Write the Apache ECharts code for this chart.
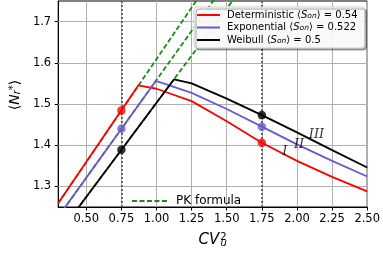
<!DOCTYPE html>
<html><head><meta charset="utf-8">
<script src="https://cdn.jsdelivr.net/npm/echarts@6/dist/echarts.min.js"></script>
<style>html,body{margin:0;padding:0;background:#fff}#c{width:383px;height:253px}</style>
</head><body><div id="c"></div>
<script>
// ---- data ----
const xTicks = [0.5, 0.75, 1.0, 1.25, 1.5, 1.75, 2.0, 2.25, 2.5];
const yTicks = [1.3, 1.4, 1.5, 1.6, 1.7];
const detX = [0.3, 0.87, 1.0, 1.25, 1.5, 1.75, 2.0, 2.25, 2.5];
const detY = [1.259, 1.545, 1.537, 1.507, 1.458, 1.406, 1.362, 1.323, 1.288];
const expX = [0.3, 0.995, 1.25, 1.5, 1.75, 2.0, 2.25, 2.5];
const expY = [1.226, 1.556, 1.527, 1.488, 1.445, 1.402, 1.362, 1.324];
const weiX = [0.3, 1.125, 1.25, 1.5, 1.75, 2.0, 2.25, 2.5];
const weiY = [1.183, 1.560, 1.550, 1.513, 1.473, 1.431, 1.388, 1.346];
const pkX = [0.3, 1.7];
const pkDet = [1.259, 1.959];
const pkExp = [1.226, 1.891];
const pkWei = [1.183, 1.823];
const dotX = [0.75, 1.75];
const detDots = [1.484, 1.406];
const expDots = [1.440, 1.445];
const weiDots = [1.389, 1.473];
const vLines = [0.75, 1.75];
const romanText = ['I', 'II', 'III'];
const romanX = [1.913, 2.015, 2.139];
const romanY = [1.385, 1.401, 1.426];
const legendVals = {Deterministic: '0.54', Exponential: '0.522', Weibull: '0.5'};

const zip = (xs, ys) => xs.map((x, i) => [x, ys[i]]);
const RED = '#ff0000', BLUE = '#6a5acd', BLACK = '#000000', GREEN = '#1a8a1a';
const FONT = 'DejaVu Sans';

function lineSeries(name, xs, ys, color) {
  return {type: 'line', name, data: zip(xs, ys), symbol: 'none', z: 3,
    lineStyle: {color, width: 1.8}, itemStyle: {color}, animation: false};
}
function pkSeries(ys) {
  return {type: 'line', name: 'PK formula', data: zip(pkX, ys), symbol: 'none', z: 2,
    lineStyle: {color: GREEN, width: 1.8, type: [5, 2.5]}, itemStyle: {color: GREEN}, animation: false};
}
function dotSeries(ys, color) {
  return {type: 'scatter', data: zip(dotX, ys), symbolSize: 8.5, z: 5,
    itemStyle: {color}, animation: false};
}
const noSymbol = {color: 'transparent', borderWidth: 0, opacity: 0};

const chart = echarts.init(document.getElementById('c'));
chart.setOption({
  animation: false,
  grid: {left: 45, right: 13, top: 1, bottom: 41, show: true, borderColor: '#000', borderWidth: 1, backgroundColor: 'transparent'},
  xAxis: {
    type: 'value', min: 0.3, max: 2.5,
    axisLine: {show: true, onZero: false, lineStyle: {color: '#000', width: 1}},
    axisTick: {show: true, length: 3.5, lineStyle: {color: '#000'}, customValues: xTicks},
    axisLabel: {color: '#000', fontFamily: FONT, fontSize: 11.5, margin: 6, customValues: xTicks,
      formatter: v => v.toFixed(2)},
    splitLine: {show: false},
    name: '{a|CV}{sup|2}{sub|u}',
    nameLocation: 'middle', nameGap: 25,
    nameTextStyle: {fontFamily: FONT, color: '#000',
      rich: {
        a: {fontFamily: FONT, fontStyle: 'italic', fontSize: 15, color: '#000'},
        sup: {fontFamily: FONT, fontSize: 10, color: '#000', verticalAlign: 'top', padding: [0, 0, 0, 1]},
        sub: {fontFamily: FONT, fontStyle: 'italic', fontSize: 10, color: '#000', verticalAlign: 'bottom', padding: [6, 0, 0, -6]}
      }}
  },
  yAxis: {
    type: 'value', min: 1.25, max: 1.75,
    axisLine: {show: true, onZero: false, lineStyle: {color: '#000', width: 1}},
    axisTick: {show: true, length: 3.5, lineStyle: {color: '#000'}, customValues: yTicks},
    axisLabel: {color: '#000', fontFamily: FONT, fontSize: 11.5, margin: 7, customValues: yTicks,
      formatter: v => v.toFixed(1)},
    splitLine: {show: false},
    name: '{l|\u27e8}{n|N}{sub|r}{sup|*}{l|\u27e9}',
    nameLocation: 'middle', nameRotate: 90, nameGap: 27,
    nameTextStyle: {fontFamily: FONT, color: '#000', padding: [0, 0, 0, 18],
      rich: {
        l: {fontFamily: FONT, fontSize: 14, color: '#000'},
        n: {fontFamily: FONT, fontStyle: 'italic', fontSize: 14, color: '#000'},
        sub: {fontFamily: FONT, fontStyle: 'italic', fontSize: 10, color: '#000', verticalAlign: 'bottom'},
        sup: {fontFamily: FONT, fontSize: 10, color: '#000', verticalAlign: 'top'}
      }}
  },
  legend: [{
    data: ['Deterministic', 'Exponential', 'Weibull'],
    orient: 'vertical', left: 194, top: 7, z: 10,
    padding: [3, 7, 3, 2], itemGap: 2.5, itemWidth: 23, itemHeight: 10,
    itemStyle: noSymbol,
    backgroundColor: 'rgba(255,255,255,0.92)', borderColor: '#cccccc', borderWidth: 1, borderRadius: 3,
    shadowColor: 'rgba(0,0,0,0.35)', shadowOffsetX: 2, shadowOffsetY: 2, shadowBlur: 0,
    formatter: name => '{t|' + name + ' \u27e8}{s|S}{sub|on}{t|\u27e9 = ' + legendVals[name] + '}',
    textStyle: {fontFamily: FONT, fontSize: 10, color: '#000', padding: [0, 0, 0, 2],
      rich: {
        t: {fontFamily: FONT, fontSize: 10, color: '#000'},
        s: {fontFamily: FONT, fontStyle: 'italic', fontSize: 10, color: '#000'},
        sub: {fontFamily: FONT, fontStyle: 'italic', fontSize: 7.5, color: '#000', verticalAlign: 'bottom'}
      }}
  }, {
    data: ['PK formula'],
    left: 131, top: 195, padding: 0, z: 10,
    itemWidth: 35, itemHeight: 12,
    itemStyle: noSymbol,
    textStyle: {fontFamily: FONT, fontSize: 12, color: '#000', padding: [0, 0, 0, 4]}
  }],
  series: [
    {type: 'line', data: [], symbol: 'none', silent: true, animation: false, z: 1,
      markLine: {silent: true, symbol: 'none', label: {show: false}, animation: false, z: 1,
        lineStyle: {color: '#b0b0b0', width: 1, type: 'solid'},
        data: xTicks.map(v => ({xAxis: v})).concat(yTicks.map(v => ({yAxis: v})))}},
    pkSeries(pkDet), pkSeries(pkExp), pkSeries(pkWei),
    lineSeries('Deterministic', detX, detY, RED),
    lineSeries('Exponential', expX, expY, BLUE),
    lineSeries('Weibull', weiX, weiY, BLACK),
    {type: 'line', data: [], symbol: 'none', silent: true, animation: false, z: 4,
      markLine: {silent: true, symbol: 'none', label: {show: false}, animation: false, z: 4,
        lineStyle: {color: '#666666', width: 2, type: [2, 2]},
        data: vLines.map(v => ({xAxis: v}))}},
    dotSeries(detDots, RED), dotSeries(expDots, BLUE), dotSeries(weiDots, BLACK),
    {type: 'scatter', data: romanX.map((x, i) => [x, romanY[i], romanText[i]]), symbolSize: 0, z: 6,
      label: {show: true, position: 'inside', formatter: p => p.data[2],
        fontFamily: 'DejaVu Serif', fontStyle: 'italic', fontSize: 13, color: '#000'}}
  ]
});
</script></body></html>
